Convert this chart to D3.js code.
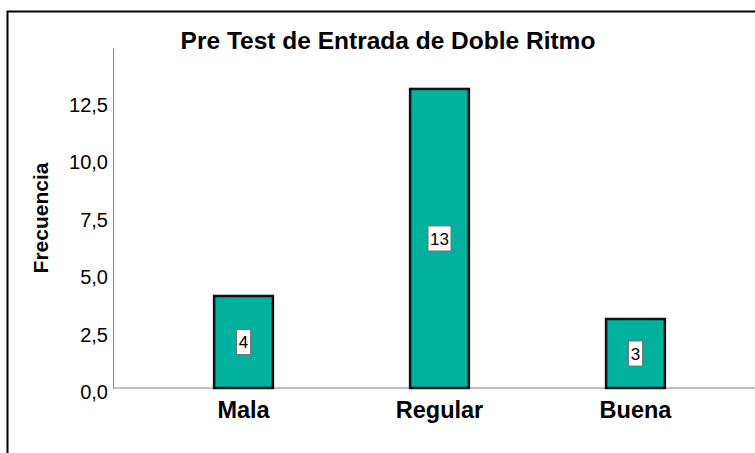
<!DOCTYPE html>
<html>
<head>
<meta charset="utf-8">
<script src="https://cdn.jsdelivr.net/npm/d3@7"></script>
<style>
  body { margin: 0; background: #fff; }
  text { font-family: Arial, "Liberation Sans", sans-serif; }
</style>
</head>
<body>
<script>
// Chart data
var categories = ["Mala", "Regular", "Buena"];
var frequencies = [4, 13, 3];
var yTicks = [0, 2.5, 5, 7.5, 10, 12.5];
var chartTitle = "Pre Test de Entrada de Doble Ritmo";
var yTitle = "Frecuencia";

var svgWidth = 755;
var svgHeight = 453;

var svg = d3.select("body")
  .append("svg")
  .attr("width", svgWidth)
  .attr("height", svgHeight);

// outer frame (cut off at right and bottom)
svg.append("rect")
  .attr("x", 7.5)
  .attr("y", 11.5)
  .attr("width", 800)
  .attr("height", 500)
  .attr("fill", "none")
  .attr("stroke", "#000")
  .attr("stroke-width", 2);

var plotLeft = 113;
var plotBottom = 388;
var plotTop = 48;

var yScale = d3.scaleLinear()
  .domain([0, 14.78])
  .range([plotBottom, plotTop]);

var xScale = d3.scaleBand()
  .domain(categories)
  .range([plotLeft, 766])
  .paddingInner(0.7)
  .paddingOuter(0.516);

// baseline
svg.append("line")
  .attr("x1", plotLeft)
  .attr("x2", svgWidth)
  .attr("y1", yScale(0))
  .attr("y2", yScale(0))
  .attr("stroke", "#c0c0c0")
  .attr("stroke-width", 2);

// y axis
var leftAxis = d3.axisLeft(yScale)
  .tickValues(yTicks)
  .tickSize(0)
  .tickPadding(5)
  .tickFormat(d => d3.format(".1f")(d).replace(".", ","));

var yAxisG = svg.append("g")
  .attr("transform", `translate(${plotLeft}, 0)`)
  .call(leftAxis);

yAxisG.select(".domain")
  .attr("stroke", "#8a8a8a")
  .attr("stroke-width", 1);

yAxisG.selectAll("text")
  .attr("font-family", "Arial, 'Liberation Sans', sans-serif")
  .attr("font-size", 20)
  .attr("y", 4.5)
  .attr("fill", "#000");

// x labels
var bottomAxis = d3.axisBottom(xScale).tickSize(0).tickPadding(13);
var xAxisG = svg.append("g")
  .attr("transform", `translate(0, ${plotBottom})`)
  .call(bottomAxis);
xAxisG.select(".domain").remove();
xAxisG.selectAll("text")
  .attr("font-family", "Arial, 'Liberation Sans', sans-serif")
  .attr("font-size", 23.5)
  .attr("font-weight", "bold")
  .attr("fill", "#000");

// bars
svg.selectAll(".bar")
  .data(frequencies)
  .enter()
  .append("rect")
  .attr("class", "bar")
  .attr("x", (d, i) => xScale(categories[i]))
  .attr("y", d => yScale(d))
  .attr("width", xScale.bandwidth())
  .attr("height", d => yScale(0) - yScale(d))
  .attr("fill", "#00b29d")
  .attr("stroke", "#111")
  .attr("stroke-width", 2.5);

// value labels in white boxes
var labels = svg.selectAll(".lbl")
  .data(frequencies)
  .enter()
  .append("g")
  .attr("class", "lbl")
  .attr("transform", (d, i) => `translate(${xScale(categories[i]) + xScale.bandwidth() / 2}, ${yScale(d / 2)})`);

labels.append("rect")
  .attr("x", d => -(String(d).length * 9 + 5) / 2)
  .attr("y", -12.5)
  .attr("width", d => String(d).length * 9 + 5)
  .attr("height", 25)
  .attr("fill", "#fff")
  .attr("stroke", "#777")
  .attr("stroke-width", 1);

labels.append("text")
  .attr("text-anchor", "middle")
  .attr("dy", "0.36em")
  .attr("font-size", 17)
  .attr("fill", "#000")
  .text(d => d);

// title
svg.append("text")
  .attr("x", 388)
  .attr("y", 49)
  .attr("text-anchor", "middle")
  .attr("font-size", 24.5)
  .attr("font-weight", "bold")
  .text(chartTitle);

// y title
svg.append("text")
  .attr("transform", "translate(48, 218) rotate(-90)")
  .attr("text-anchor", "middle")
  .attr("font-size", 21)
  .attr("font-weight", "bold")
  .text(yTitle);
</script>
</body>
</html>
